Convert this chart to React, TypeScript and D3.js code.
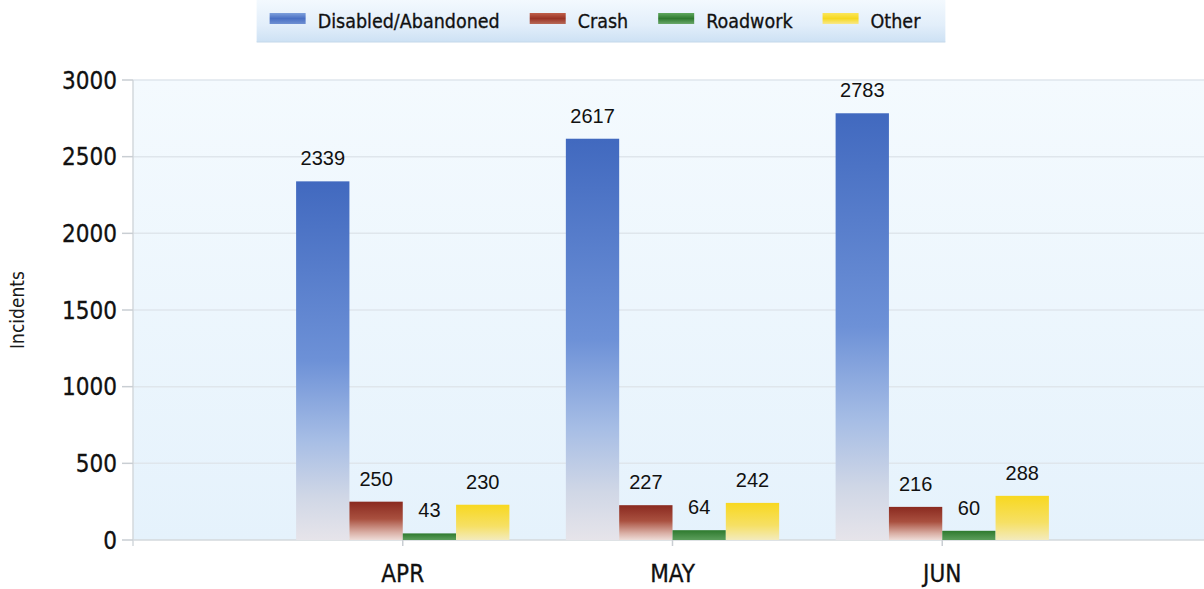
import React, { useEffect } from "react";
import * as d3 from "d3";

const months = ["APR", "MAY", "JUN"];
const seriesNames = ["Disabled/Abandoned", "Crash", "Roadwork", "Other"];
const disabledValues = [2339, 2617, 2783];
const crashValues = [250, 227, 216];
const roadworkValues = [43, 64, 60];
const otherValues = [230, 242, 288];
const yTicks = [0, 500, 1000, 1500, 2000, 2500, 3000];
const yAxisTitle = "Incidents";

const W = 1204;
const H = 589;
const plotLeft = 133;
const plotRight = 1212;
const plotTop = 80;
const plotBottom = 540;

const tickFont = "'DejaVu Sans Condensed', 'DejaVu Sans', sans-serif";
const labelFont = "'Liberation Sans', Arial, sans-serif";

const gradients: Record<string, [number, string][]> = {
  g0: [[0, "#4169bf"], [0.5, "#6d91d7"], [0.72, "#a6bde5"], [0.88, "#d0d7e6"], [1, "#e6e4ea"]],
  g1: [[0, "#8a2a20"], [0.45, "#a9503f"], [0.8, "#d9aea4"], [1, "#eedcd8"]],
  g2: [[0, "#2e7a2e"], [1, "#5c9e5c"]],
  g3: [[0, "#f8d820"], [0.6, "#f6e064"], [1, "#f3ebbd"]],
};
const swatchGradients: Record<string, [number, string][]> = {
  s0: [[0, "#7ea0dc"], [0.5, "#4a70c4"], [1, "#6f90d2"]],
  s1: [[0, "#c0604a"], [0.5, "#9a3426"], [1, "#b86a58"]],
  s2: [[0, "#5ea85e"], [0.5, "#2f7a2f"], [1, "#6aa86a"]],
  s3: [[0, "#fbe65a"], [0.5, "#f6d820"], [1, "#f8e88a"]],
};

function measure(text: string, font: string): number {
  const c = document.createElement("canvas");
  const ctx = c.getContext("2d");
  if (!ctx) return text.length * 10;
  ctx.font = font;
  return ctx.measureText(text).width;
}

export default function App() {
  useEffect(() => {
    document.body.style.margin = "0";
  }, []);

  const table = months.map((m, i) => ({
    month: m,
    values: [disabledValues[i], crashValues[i], roadworkValues[i], otherValues[i]],
  }));

  const x = d3.scalePoint<string>().domain(months).range([plotLeft, plotRight]).padding(1);
  const groupW = 213.3;
  const xs = d3
    .scaleBand<string>()
    .domain(seriesNames)
    .range([-groupW / 2, groupW / 2])
    .padding(0);
  const y = d3.scaleLinear().domain([0, 3000]).range([plotBottom, plotTop]);

  // legend layout
  const legendFontSize = 19.5;
  const legendFontCss = `${legendFontSize}px 'DejaVu Sans Condensed', 'DejaVu Sans', sans-serif`;
  const swW = 36;
  const swGap = 12;
  const itemGap = 30;
  const widths = seriesNames.map((s) => measure(s, legendFontCss));
  const totalItems =
    widths.reduce((a, b) => a + b, 0) + seriesNames.length * (swW + swGap) + (seriesNames.length - 1) * itemGap;
  const legendCenter = 595;
  let cursor = legendCenter - totalItems / 2;
  const legendItems = seriesNames.map((s, i) => {
    const it = { name: s, sx: cursor, tx: cursor + swW + swGap };
    cursor += swW + swGap + widths[i] + itemGap;
    return it;
  });
  const boxLeft = legendItems[0].sx - 13;
  const boxRight = cursor - itemGap + 25;

  return (
    <svg
      width={W}
      height={H}
      style={{ position: "absolute", left: 0, top: 0, display: "block", background: "#ffffff" }}
    >
      <defs>
        <linearGradient id="plotBg" x1="0" y1="0" x2="0" y2="1">
          <stop offset="0" stopColor="#f4fafe" />
          <stop offset="1" stopColor="#e5f2fc" />
        </linearGradient>
        <linearGradient id="legendBg" x1="0" y1="0" x2="0" y2="1">
          <stop offset="0" stopColor="#f3f9fe" />
          <stop offset="0.6" stopColor="#e2eefa" />
          <stop offset="1" stopColor="#cde1f4" />
        </linearGradient>
        {Object.entries(gradients).map(([id, stops]) => (
          <linearGradient key={id} id={id} x1="0" y1="0" x2="0" y2="1">
            {stops.map(([o, c], k) => (
              <stop key={k} offset={o} stopColor={c} />
            ))}
          </linearGradient>
        ))}
        {Object.entries(swatchGradients).map(([id, stops]) => (
          <linearGradient key={id} id={id} x1="0" y1="0" x2="0" y2="1">
            {stops.map(([o, c], k) => (
              <stop key={k} offset={o} stopColor={c} />
            ))}
          </linearGradient>
        ))}
      </defs>

      {/* legend */}
      <rect x={boxLeft} y={0} width={boxRight - boxLeft} height={42} fill="url(#legendBg)" />
      <line x1={boxLeft} x2={boxRight} y1={42} y2={42} stroke="#c4d8ea" strokeWidth={1} />
      {legendItems.map((it, i) => (
        <g key={it.name}>
          <rect x={it.sx} y={13} width={swW} height={11} fill={`url(#s${i})`} />
          <text
            x={it.tx}
            y={28}
            fontFamily={tickFont}
            fontSize={legendFontSize}
            fill="#111111"
            stroke="#111111"
            strokeWidth={0.3}
          >
            {it.name}
          </text>
        </g>
      ))}

      {/* plot background */}
      <rect
        x={plotLeft}
        y={plotTop}
        width={plotRight - plotLeft}
        height={plotBottom - plotTop}
        fill="url(#plotBg)"
      />

      {/* gridlines */}
      {yTicks
        .filter((t) => t > 0)
        .map((t) => (
          <line
            key={t}
            x1={plotLeft}
            x2={plotRight}
            y1={y(t)}
            y2={y(t)}
            stroke="#dfe6ec"
            strokeWidth={1.5}
          />
        ))}

      {/* axes */}
      <line x1={plotLeft} x2={plotLeft} y1={plotTop} y2={plotBottom + 6} stroke="#d3d8dd" strokeWidth={1.5} />
      <line x1={plotLeft} x2={plotRight} y1={plotBottom} y2={plotBottom} stroke="#d3d8dd" strokeWidth={1.5} />
      {yTicks.map((t) => (
        <g key={t}>
          <line x1={122} x2={plotLeft} y1={y(t)} y2={y(t)} stroke="#c9ced3" strokeWidth={1.5} />
          <text
            x={117}
            y={y(t)}
            dy="0.36em"
            textAnchor="end"
            fontFamily={tickFont}
            fontSize={24}
            fill="#111111"
            stroke="#111111"
            strokeWidth={0.3}
          >
            {t}
          </text>
        </g>
      ))}
      {months.map((m) => (
        <g key={m}>
          <line x1={x(m)} x2={x(m)} y1={plotBottom} y2={plotBottom + 6} stroke="#c9ced3" strokeWidth={1.5} />
          <text
            x={x(m)}
            y={582}
            textAnchor="middle"
            fontFamily={tickFont}
            fontSize={24}
            fill="#111111"
            stroke="#111111"
            strokeWidth={0.3}
          >
            {m}
          </text>
        </g>
      ))}
      <text
        transform={`translate(24,310) rotate(-90)`}
        textAnchor="middle"
        fontFamily={tickFont}
        fontSize={19}
        fill="#1a1a1a"
      >
        {yAxisTitle}
      </text>

      {/* bars */}
      {table.map((row) => (
        <g key={row.month} transform={`translate(${x(row.month)},0)`}>
          {row.values.map((v, i) => {
            const bx = xs(seriesNames[i]) as number;
            const bw = xs.bandwidth();
            return (
              <g key={i}>
                <rect x={bx} y={y(v)} width={bw} height={y(0) - y(v)} fill={`url(#g${i})`} />
                <text
                  x={bx + bw / 2}
                  y={y(v) - 16}
                  textAnchor="middle"
                  fontFamily={labelFont}
                  fontSize={20}
                  fill="#111111"
                >
                  {v}
                </text>
              </g>
            );
          })}
        </g>
      ))}
    </svg>
  );
}
